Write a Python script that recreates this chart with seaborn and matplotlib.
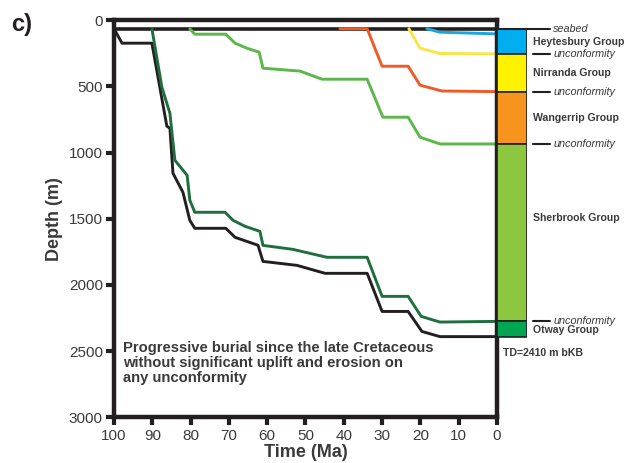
import numpy as np
import pandas as pd
import seaborn as sns
import matplotlib.pyplot as plt

# burial curves (time in Ma, depth in m)
black_t = [100, 97.9, 90.1, 86.2, 85.4, 84.6, 82.0, 80.2, 78.9, 70.8, 68.4, 62.4, 61.1, 52.2, 44.9, 33.9, 30.0, 23.2, 19.6, 14.9, 0]
black_d = [65, 174, 174, 801, 816, 1156, 1300, 1512, 1572, 1572, 1640, 1700, 1822, 1852, 1912, 1912, 2200, 2200, 2351, 2390, 2390]

dkgreen_t = [90.1, 87.5, 85.4, 84.1, 80.9, 80.2, 78.9, 71.0, 68.9, 65.8, 61.9, 61.1, 53.3, 44.4, 33.9, 30.0, 23.2, 19.8, 14.9, 0]
dkgreen_d = [65, 506, 703, 1058, 1172, 1360, 1451, 1451, 1512, 1557, 1595, 1701, 1731, 1791, 1791, 2086, 2086, 2237, 2280, 2275]

ltgreen_t = [80.2, 78.9, 70.8, 68.4, 65.3, 62.1, 61.1, 51.4, 45.7, 33.9, 29.8, 23.2, 20.1, 14.9, 0]
ltgreen_d = [65, 106, 106, 174, 212, 242, 363, 385, 446, 446, 733, 733, 884, 935, 935]

red_t = [41, 33.9, 30.0, 23.2, 20.1, 14.4, 0]
red_d = [65, 65, 348, 348, 491, 535, 540]

yellow_t = [23.0, 20.1, 14.9, 0]
yellow_d = [65, 212, 252, 255]

blue_t = [18.3, 14.9, 0]
blue_d = [65, 91, 104]

seabed = 65

# stratigraphic column
groups = ["Heytesbury Group", "Nirranda Group", "Wangerrip Group", "Sherbrook Group", "Otway Group"]
group_top = [65, 255, 540, 935, 2275]
group_base = [255, 540, 935, 2275, 2390]
group_colors = ["#00AEEF", "#FFF200", "#F7941D", "#8DC63F", "#00A651"]
unconf_depths = [255, 540, 935, 2275]

series = {
    "black": (black_t, black_d, "#231F20"),
    "dkgreen": (dkgreen_t, dkgreen_d, "#1F6E3D"),
    "ltgreen": (ltgreen_t, ltgreen_d, "#5DB64B"),
    "red": (red_t, red_d, "#F05A28"),
    "yellow": (yellow_t, yellow_d, "#F9E547"),
    "blue": (blue_t, blue_d, "#1BA6E2"),
}

rows = []
for name, (t, d, c) in series.items():
    for ti, di in zip(t, d):
        rows.append({"horizon": name, "time": ti, "depth": di})
df = pd.DataFrame(rows)
pal = {k: v[2] for k, v in series.items()}

sns.set_style("ticks")
plt.rcParams["font.family"] = ["Liberation Sans", "DejaVu Sans"]
txt = "#3a3a3a"

fig = plt.figure(figsize=(6.28, 4.63), dpi=100)
ax = fig.add_axes([0.1815, 0.0985, 0.6099, 0.858])

ax.axhline(seabed, color="#231F20", lw=2.6, zorder=1)
sns.lineplot(data=df, x="time", y="depth", hue="horizon", palette=pal, sort=False,
             estimator=None, legend=False, lw=2.1, ax=ax, zorder=2)

ax.set_xlim(100, 0)
ax.set_ylim(3000, 0)
ax.set_xticks(np.arange(100, -1, -10))
ax.set_yticks(np.arange(0, 3001, 500))
for s in ax.spines.values():
    s.set_linewidth(3.2)
    s.set_color("#231F20")
ax.tick_params(direction="out", length=6, width=3, labelsize=11, labelcolor=txt, pad=2,
               color="#231F20")
ax.set_xlabel("Time (Ma)", fontsize=13, fontweight="bold", color=txt, labelpad=1)
ax.set_ylabel("Depth (m)", fontsize=13, fontweight="bold", color=txt, labelpad=4)

ax.text(97.6, 2420, "Progressive burial since the late Cretaceous\nwithout significant uplift and erosion on\nany unconformity",
        fontsize=10.6, fontweight="bold", color=txt, va="top", ha="left", linespacing=1.12)

# column to the right
col = fig.add_axes([0.7914, 0.0985, 0.0478, 0.858], sharey=ax)
col.bar(x=[0.5] * len(groups), height=np.array(group_base) - np.array(group_top), bottom=group_top,
        width=1.0, color=group_colors, edgecolor="#231F20", linewidth=1.2)
col.set_xlim(0, 1)
col.axis("off")

col.plot([0, 1.77], [seabed, seabed], color="#231F20", lw=1.5, clip_on=False)
col.text(1.87, seabed, "seabed", style="italic", fontsize=7.8, color=txt, va="center", ha="left", clip_on=False)
for d in unconf_depths:
    col.plot([1.2, 1.77], [d, d], color="#231F20", lw=1.5, clip_on=False)
    col.text(1.87, d, "unconformity", style="italic", fontsize=7.8, color=txt, va="center", ha="left", clip_on=False)

label_depth = [166, 400, 740, 1497, 2343]
for g, d in zip(groups, label_depth):
    col.text(1.2, d, g, fontweight="bold", fontsize=7.6, color=txt, va="center", ha="left", clip_on=False)
col.text(0.2, 2510, "TD=2410 m bKB", fontweight="bold", fontsize=7.6, color=txt, va="center", ha="left", clip_on=False)

fig.text(0.018, 0.948, "c)", fontsize=17, fontweight="bold", color="#231F20", va="center")

fig.savefig("out.png", dpi=100)
